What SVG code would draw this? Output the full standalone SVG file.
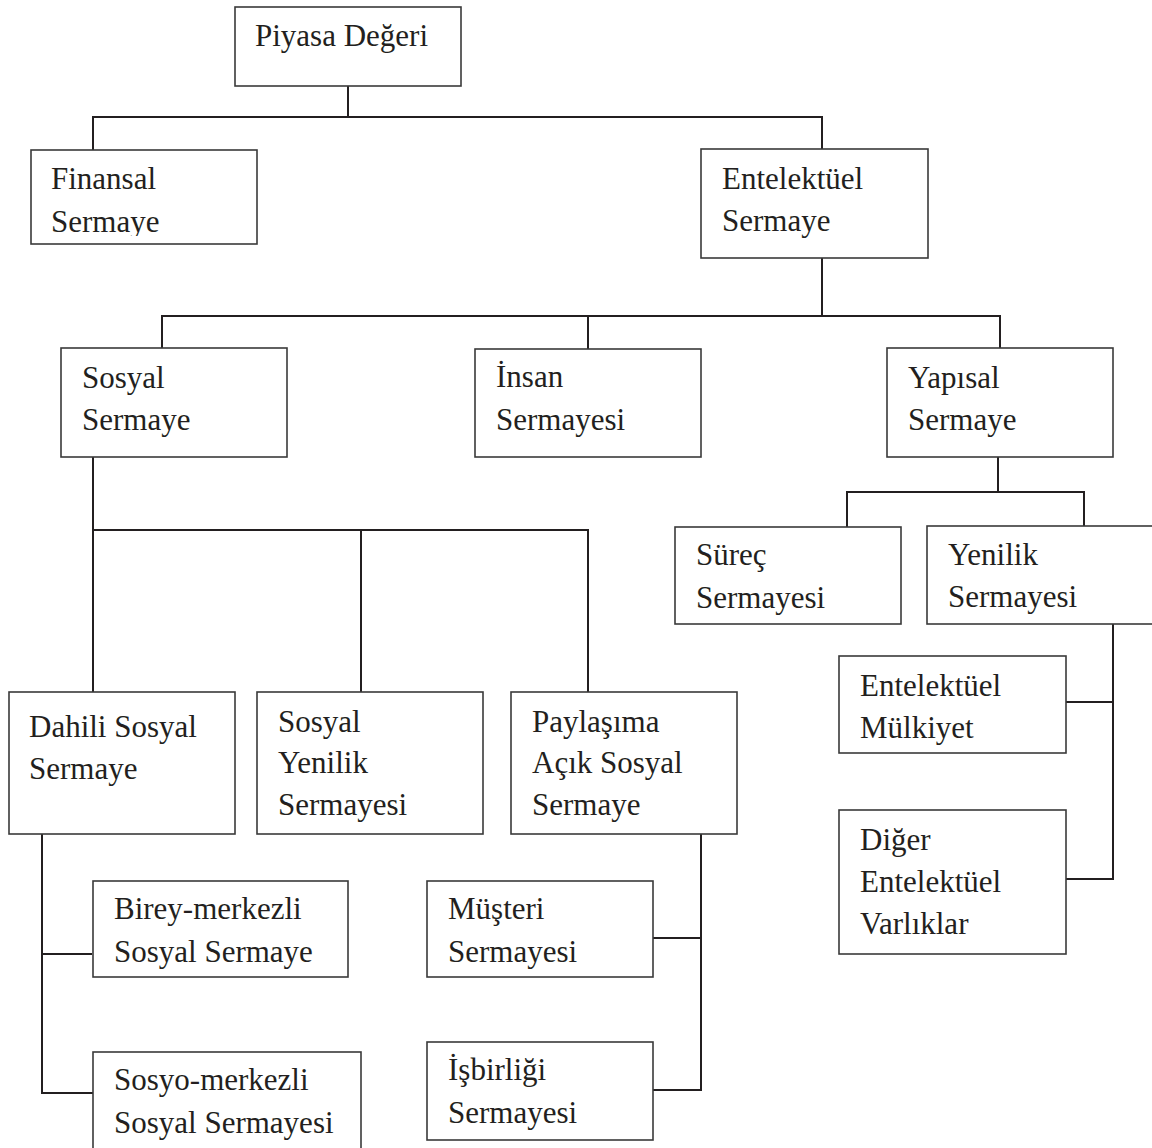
<svg xmlns="http://www.w3.org/2000/svg" width="1152" height="1148" viewBox="0 0 1152 1148">
<style>
.box{fill:#fff;stroke:#3a3a3a;stroke-width:1.6}
.lbl{font-family:"Liberation Serif","Times New Roman",serif;font-size:31px;fill:#231f20}
.conn{fill:none;stroke:#231f20;stroke-width:2}
</style>
<defs>
<clipPath id="clipFin"><rect x="31" y="150" width="226" height="86"/></clipPath>
</defs>
<rect width="1152" height="1148" fill="#fff"/>
<g id="connectors">
<path class="conn" d="M348,86 V117 M93,150 V117 H822 V149"/>
<path class="conn" d="M822,258 V316 M162,348 V316 H1000 V348 M588,316 V349"/>
<path class="conn" d="M93,457 V530 H588 V692 M93,530 V692 M361,530 V692"/>
<path class="conn" d="M998,457 V492 M847,527 V492 H1084 V526"/>
<path class="conn" d="M1113,624 V879 H1066 M1066,702 H1113"/>
<path class="conn" d="M42,834 V1093 H93 M42,954 H92"/>
<path class="conn" d="M701,834 V1090 H653 M653,938 H701"/>
</g>
<g id="piyasa"><rect class="box" x="235" y="7" width="226" height="79"/><text class="lbl" x="255" y="46">Piyasa Değeri</text></g>
<g id="finansal"><rect class="box" x="31" y="150" width="226" height="94"/><text class="lbl" x="51" clip-path="url(#clipFin)"><tspan x="51" y="189">Finansal</tspan><tspan x="51" y="232">Sermaye</tspan></text></g>
<g id="entelektuel"><rect class="box" x="701" y="149" width="227" height="109"/><text class="lbl"><tspan x="722" y="189">Entelektüel</tspan><tspan x="722" y="231">Sermaye</tspan></text></g>
<g id="sosyal"><rect class="box" x="61" y="348" width="226" height="109"/><text class="lbl"><tspan x="82" y="388">Sosyal</tspan><tspan x="82" y="430">Sermaye</tspan></text></g>
<g id="insan"><rect class="box" x="475" y="349" width="226" height="108"/><text class="lbl"><tspan x="496" y="387">İnsan</tspan><tspan x="496" y="430">Sermayesi</tspan></text></g>
<g id="yapisal"><rect class="box" x="887" y="348" width="226" height="109"/><text class="lbl"><tspan x="908" y="388">Yapısal</tspan><tspan x="908" y="430">Sermaye</tspan></text></g>
<g id="surec"><rect class="box" x="675" y="527" width="226" height="97"/><text class="lbl"><tspan x="696" y="565">Süreç</tspan><tspan x="696" y="608">Sermayesi</tspan></text></g>
<g id="yenilik"><rect class="box" x="927" y="526" width="240" height="98"/><text class="lbl"><tspan x="948" y="565">Yenilik</tspan><tspan x="948" y="607">Sermayesi</tspan></text></g>
<g id="mulkiyet"><rect class="box" x="839" y="656" width="227" height="97"/><text class="lbl"><tspan x="860" y="696">Entelektüel</tspan><tspan x="860" y="738">Mülkiyet</tspan></text></g>
<g id="diger"><rect class="box" x="839" y="810" width="227" height="144"/><text class="lbl"><tspan x="860" y="850">Diğer</tspan><tspan x="860" y="892">Entelektüel</tspan><tspan x="860" y="934">Varlıklar</tspan></text></g>
<g id="dahili"><rect class="box" x="9" y="692" width="226" height="142"/><text class="lbl"><tspan x="29" y="737">Dahili Sosyal</tspan><tspan x="29" y="779">Sermaye</tspan></text></g>
<g id="sosyalyenilik"><rect class="box" x="257" y="692" width="226" height="142"/><text class="lbl"><tspan x="278" y="732">Sosyal</tspan><tspan x="278" y="773">Yenilik</tspan><tspan x="278" y="815">Sermayesi</tspan></text></g>
<g id="paylasima"><rect class="box" x="511" y="692" width="226" height="142"/><text class="lbl"><tspan x="532" y="732">Paylaşıma</tspan><tspan x="532" y="773">Açık Sosyal</tspan><tspan x="532" y="815">Sermaye</tspan></text></g>
<g id="birey"><rect class="box" x="93" y="881" width="255" height="96"/><text class="lbl"><tspan x="114" y="919">Birey-merkezli</tspan><tspan x="114" y="962">Sosyal Sermaye</tspan></text></g>
<g id="musteri"><rect class="box" x="427" y="881" width="226" height="96"/><text class="lbl"><tspan x="448" y="919">Müşteri</tspan><tspan x="448" y="962">Sermayesi</tspan></text></g>
<g id="sosyo"><rect class="box" x="93" y="1052" width="268" height="110"/><text class="lbl"><tspan x="114" y="1090">Sosyo-merkezli</tspan><tspan x="114" y="1133">Sosyal Sermayesi</tspan></text></g>
<g id="isbirligi"><rect class="box" x="427" y="1042" width="226" height="98"/><text class="lbl"><tspan x="448" y="1080">İşbirliği</tspan><tspan x="448" y="1123">Sermayesi</tspan></text></g>
</svg>
